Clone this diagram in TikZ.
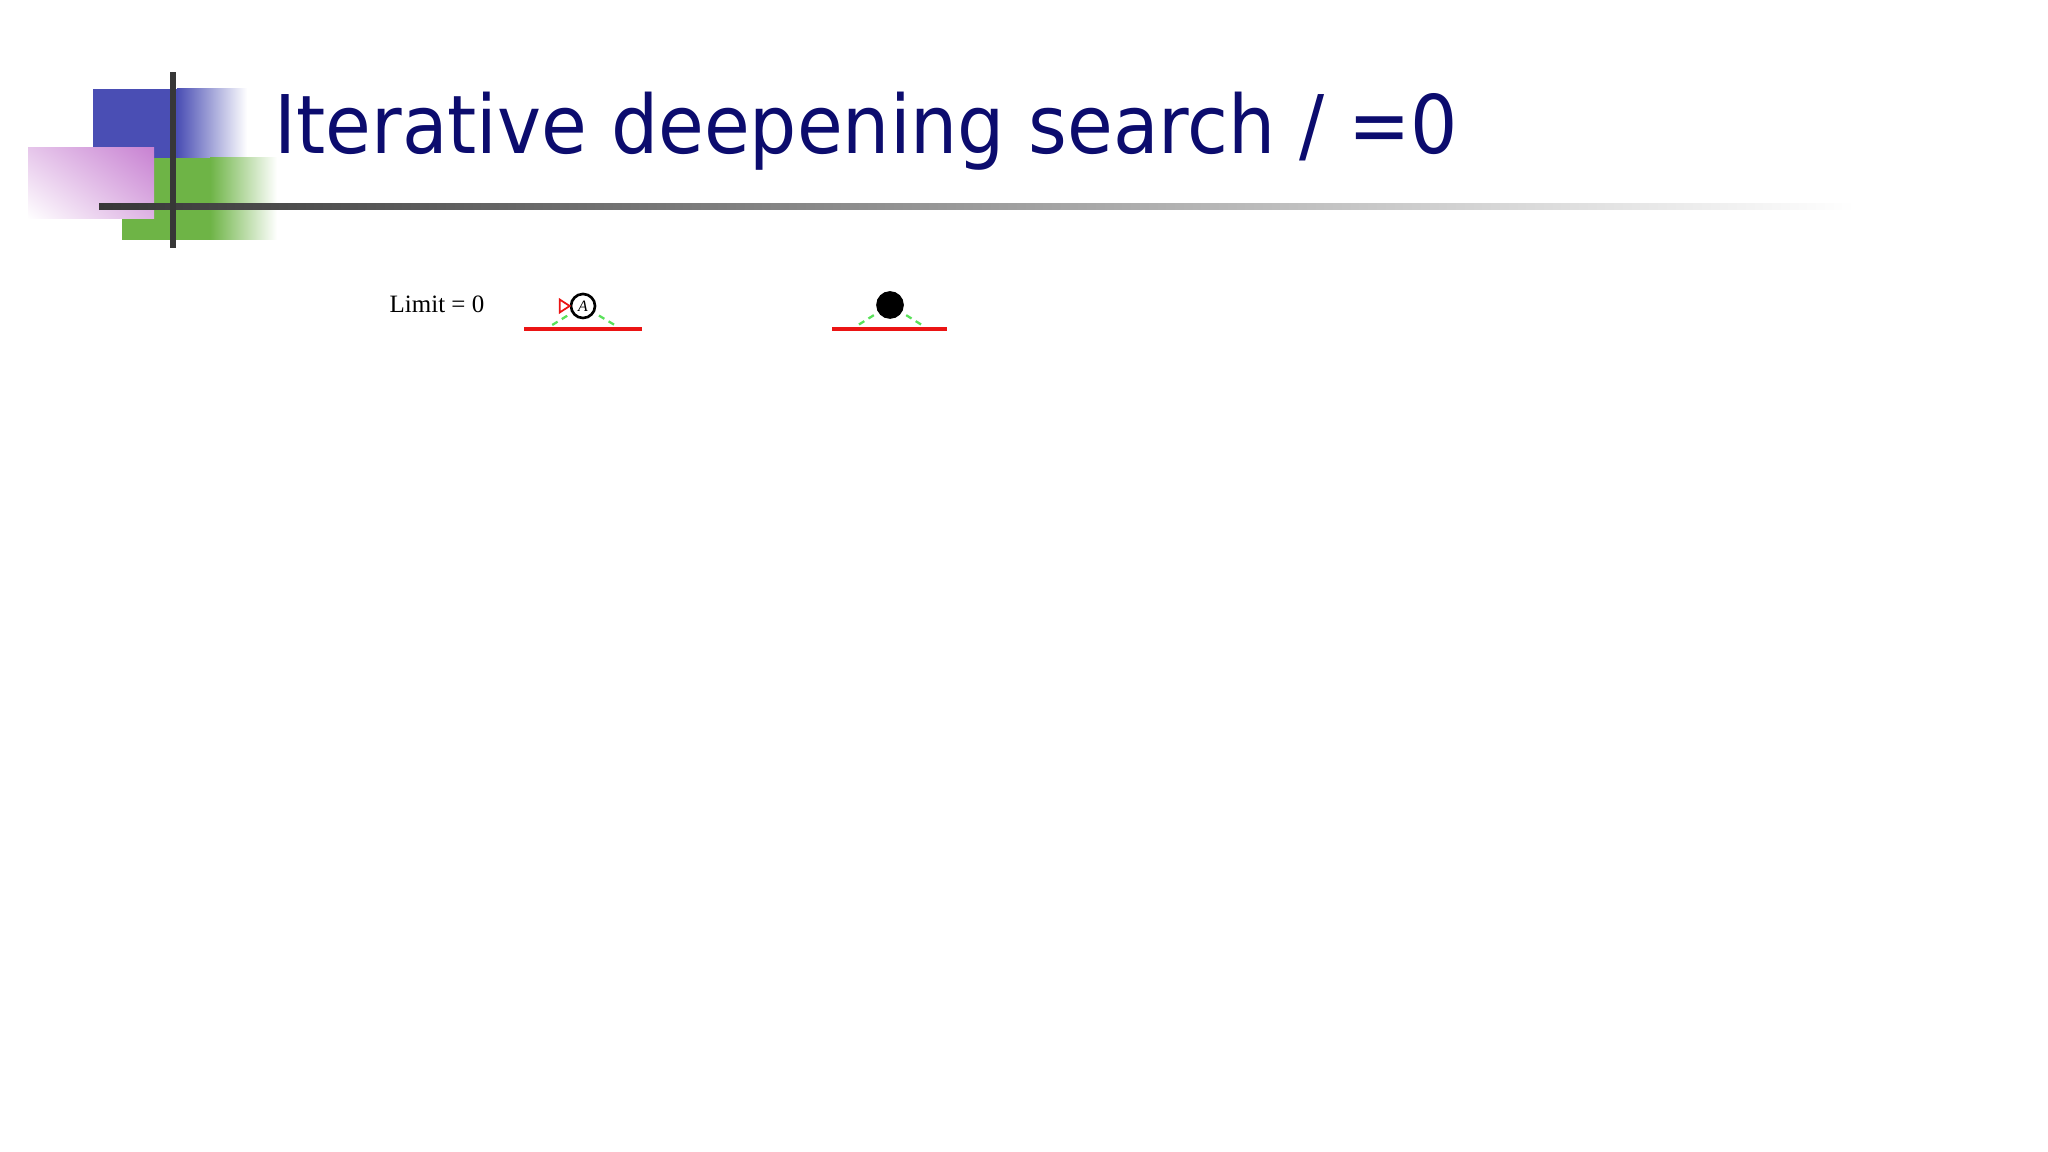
\documentclass[tikz,border=0pt]{standalone}
\usepackage{fontspec}
\setmainfont{Liberation Serif}
\newfontfamily\titlefont{DejaVu Sans}
\usetikzlibrary{shapes.geometric,shadings}
\definecolor{navy}{RGB}{12,12,110}
\definecolor{logoblue}{RGB}{74,78,180}
\definecolor{logogreen}{RGB}{110,180,70}
\definecolor{logopink}{RGB}{200,130,210}
\definecolor{bar}{RGB}{55,55,55}
\definecolor{cutred}{RGB}{235,20,20}
\definecolor{edgegreen}{RGB}{90,225,90}
\tikzset{
  >= latex,
  nd/.style={circle, draw, line width=0.75pt, minimum size=0.24cm, inner sep=0pt,
    font=\fontsize{4.5}{4.5}\selectfont\itshape},
  vis/.style={nd, fill=black, minimum size=0.25cm},
  br/.style={draw=edgegreen, line width=0.65pt, dash pattern=on 1.8pt off 1.4pt, shorten <=1.5pt},
  cut/.style={draw=cutred, line width=1.1pt},
  fl/.style={draw=cutred, line width=0.5pt, fill=white}
}

\begin{document}
\begin{tikzpicture}[x=0.01cm, y=-0.01cm]
  \useasboundingbox[fill=white] (0,0) rectangle (2048,1152);
  % logo
  \fill[logoblue] (93,89) rectangle (177,160);
  \shade[left color=logoblue, right color=white] (177,89) rectangle (247,160);
  \fill[logogreen] (122,158) rectangle (210,240);
  \shade[left color=logogreen, right color=white] (210,158) rectangle (277,240);
  \shade[upper left=logopink!45, upper right=logopink, lower left=white, lower right=logopink!60]
    (28,148) rectangle (154,219);
  \shade[left color=bar, middle color=bar!40, right color=white] (99,204) rectangle (1855,210);
  \fill[bar] (170,72) rectangle (176,248);

  \node[anchor=base west, inner sep=0pt, text=navy, font=\titlefont\fontsize{23}{23}\selectfont]
    (title) at (274,154) {\scalebox{0.92}[1]{Iterative deepening search / =0}};

  \node[anchor=base west, inner sep=0pt, font=\fontsize{7.1}{7.5}\selectfont] (lim) at (389,313) {Limit = 0};

  % first tree
  \node[nd] (a) at (583,306) {A};
  \coordinate (al) at (549,327);
  \coordinate (ar) at (618,327);
  \coordinate (acl) at (524,329);
  \coordinate (acr) at (642,329);
  \draw[br] (a) -- (al);
  \draw[br] (a) -- (ar);
  \draw[cut] (acl) -- (acr);
  \draw[fl] (a.west) -- ++(-10,-6.5) -- ++(0,13) -- cycle;

  % second tree
  \node[vis] (b) at (890,305) {};
  \coordinate (bl) at (855,327);
  \coordinate (br) at (925,327);
  \coordinate (bcl) at (832,329);
  \coordinate (bcr) at (947,329);
  \draw[br] (b) -- (bl);
  \draw[br] (b) -- (br);
  \draw[cut] (bcl) -- (bcr);
\end{tikzpicture}
\end{document}
